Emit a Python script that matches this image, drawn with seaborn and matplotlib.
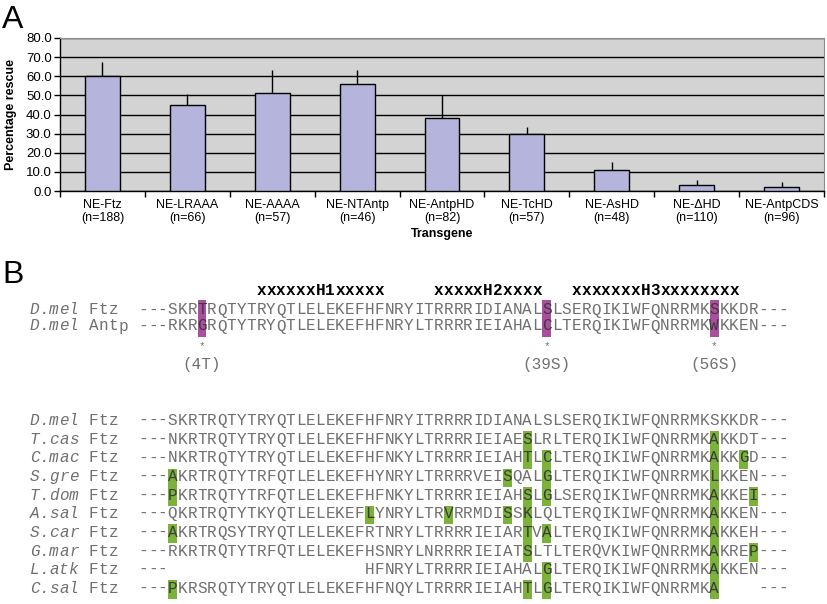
import numpy as np
import pandas as pd
import matplotlib
matplotlib.use("Agg")
import matplotlib.pyplot as plt
import seaborn as sns
from matplotlib.patches import Rectangle

# ---- panel A data ----
transgenes = ["NE-Ftz", "NE-LRAAA", "NE-AAAA", "NE-NTAntp", "NE-AntpHD",
              "NE-TcHD", "NE-AsHD", "NE-ΔHD", "NE-AntpCDS"]
n_embryos = [188, 66, 57, 46, 82, 57, 48, 110, 96]
rescue = [60.2, 45.2, 51.5, 55.8, 38.3, 30.0, 11.1, 3.0, 2.3]
rescue_err = [7.0, 5.3, 12.0, 7.6, 11.9, 3.7, 4.2, 2.9, 2.4]
y_ticks = [0, 10, 20, 30, 40, 50, 60, 70, 80]

# ---- panel B data ----
pair_species = ["D.mel", "D.mel"]
pair_genes = ["Ftz", "Antp"]
pair_seqs = [
    "---SKRTRQTYTRYQTLELEKEFHFNRYITRRRRIDIANALSLSERQIKIWFQNRRMKSKKDR---",
    "---RKRGRQTYTRYQTLELEKEFHFNRYLTRRRRIEIAHALCLTERQIKIWFQNRRMKWKKEN---",
]
helix_labels = ["xxxxxxH1xxxxx", "xxxxxH2xxxx", "xxxxxxxH3xxxxxxxx"]
helix_starts = [10, 28, 42]          # homeodomain position of first x
mutated_pos = [4, 39, 56]
mutated_labels = ["(4T)", "(39S)", "(56S)"]

ortho_species = ["D.mel", "T.cas", "C.mac", "S.gre", "T.dom",
                 "A.sal", "S.car", "G.mar", "L.atk", "C.sal"]
ortho_seqs = [
    "---SKRTRQTYTRYQTLELEKEFHFNRYITRRRRIDIANALSLSERQIKIWFQNRRMKSKKDR---",
    "---NKRTRQTYTRYQTLELEKEFHFNKYLTRRRRIEIAESLRLTERQIKIWFQNRRMKAKKDT---",
    "---NKRTRQTYTRYQTLELEKEFHFNKYLTRRRRIEIAHTLCLTERQIKIWFQNRRMKAKKGD---",
    "---AKRTRQTYTRFQTLELEKEFHYNRYLTRRRRVEISQALGLTERQIKIWFQNRRMKLKKEN---",
    "---PKRTRQTYTRFQTLELEKEFHFNKYLTRRRRIEIAHSLGLSERQIKIWFQNRRMKAKKEI---",
    "---QKRTRQTYTKYQTLELEKEFLYNRYLTRVRRMDISSKLQLTERQIKIWFQNRRMKAKKEN---",
    "---AKRTRQSYTRYQTLELEKEFRTNRYLTRRRRIEIARTVALTERQIKIWFQNRRMKAKKEH---",
    "---RKRTRQTYTRFQTLELEKEFHSNRYLNRRRRIEIATSLTLTERQVKIWFQNRRMKAKREP---",
    "---                    HFNRYLTRRRRIEIAHALGLTERQIKIWFQNRRMKAKKEN---",
    "---PKRSRQTYTRYQTLELEKEFHFNQYLTRRRRIEIAHTLGLTERQIKIWFQNRRMKA    ---",
]
ortho_highlights = [
    [], [37, 56], [37, 39, 56, 59], [1, 35, 39, 56], [1, 37, 39, 56, 60],
    [21, 29, 35, 37, 56], [1, 37, 39, 56], [37, 56, 60], [39, 56],
    [1, 37, 39, 56],
]

fig = plt.figure(figsize=(8.27, 6.04), dpi=100)
sans = ["Liberation Sans", "DejaVu Sans"]

# ---------------- panel A ----------------
ax = fig.add_axes([60 / 827, 1 - 191 / 604, 764 / 827, 153 / 604])
df = pd.DataFrame({
    "label": [f"{t}\n(n={n})" for t, n in zip(transgenes, n_embryos)],
    "rescue": rescue,
})
sns.barplot(data=df, x="label", y="rescue", color="#B4B4DC", saturation=1,
            edgecolor="black", linewidth=1.0, width=0.41, ax=ax, zorder=3)
for patch, err in zip(ax.patches, rescue_err):
    xc = patch.get_x() + patch.get_width() / 2
    top = patch.get_height()
    ax.vlines(xc, top, top + err, color="black", lw=1.0, zorder=4)

ax.set_facecolor("#D3D3D3")
ax.set_xlim(-0.5, len(transgenes) - 0.5)
ax.set_ylim(0, 80)
ax.set_yticks(y_ticks)
ax.set_yticklabels([f"{v:.1f}" for v in y_ticks], family=sans, fontsize=9.5)
ax.yaxis.grid(True, color="black", lw=1.0)
ax.set_axisbelow(True)
ax.set_xticks(np.arange(-0.5, len(transgenes)), minor=True)
ax.tick_params(axis="x", which="major", length=0, pad=6)
ax.tick_params(axis="x", which="minor", length=4, width=1, direction="out")
ax.tick_params(axis="y", length=4, width=1, direction="out", pad=2)
for lab in ax.get_xticklabels():
    lab.set_family(sans)
    lab.set_fontsize(9)
    lab.set_linespacing(1.05)
ax.set_xlabel("Transgene", family=sans, fontsize=9, fontweight="bold", labelpad=3)
ax.set_ylabel("Percentage rescue", family=sans, fontsize=9, fontweight="bold", labelpad=6)
for side in ["top", "right"]:
    ax.spines[side].set_color("#8C8C8C")
for side in ["left", "bottom"]:
    ax.spines[side].set_color("black")
    ax.spines[side].set_linewidth(1.0)

fig.text(2 / 827, 1 - 5 / 604, "A", family=sans, fontsize=23, va="top", ha="left")
fig.text(2 / 827, 1 - 260 / 604, "B", family=sans, fontsize=23, va="top", ha="left")

# ---------------- panel B ----------------
axb = fig.add_axes([0, 0, 1, 1])
axb.set_xlim(0, 827)
axb.set_ylim(604, 0)
axb.axis("off")

X0, CW = 138.0, 9.85
mono = "Liberation Mono"
gray = "#707070"
dark = "#3C3C3C"
FS = 11.5


def put_chars(s, col0, yc, marked=(), **kw):
    color = kw.pop("color", gray)
    for i, ch in enumerate(s):
        if ch == " ":
            continue
        c = dark if (col0 + i) in marked else color
        axb.text(X0 + (col0 + i + 0.5) * CW, yc + 5, ch, ha="center", va="baseline",
                 family=mono, fontsize=FS, zorder=3, color=c, **kw)


def put_label(sp, gene, yc):
    put_chars(sp, -11, yc, style="italic")
    put_chars(gene, -5, yc)


# helix header
for lab, start in zip(helix_labels, helix_starts):
    put_chars(lab, start + 2, 290, color="black", fontweight="bold")

pair_rows = [309.5, 325.5]
pair_marked = [p + 2 for p in mutated_pos]
for sp, g, seq, yc in zip(pair_species, pair_genes, pair_seqs, pair_rows):
    put_label(sp, g, yc)
    put_chars(seq, 0, yc, marked=pair_marked)
for pos, lab in zip(mutated_pos, mutated_labels):
    idx = pos + 2
    axb.add_patch(Rectangle((X0 + (idx + 0.05) * CW, 300), 0.9 * CW, 36.5,
                            facecolor="#AA4FA0", edgecolor="none", zorder=1))
    axb.text(X0 + (idx + 0.5) * CW, 349, "*", ha="center", va="baseline",
             family=mono, fontsize=8, color=gray)
    axb.text(X0 + (idx + 0.5) * CW, 364.5, lab, ha="center", va="center",
             family=mono, fontsize=FS, color=gray)

row0, pitch = 420.3, 18.6
for k, (sp, seq, hl) in enumerate(zip(ortho_species, ortho_seqs, ortho_highlights)):
    yc = row0 + k * pitch
    put_label(sp, "Ftz", yc)
    put_chars(seq, 0, yc, marked=[p + 2 for p in hl])
    for pos in hl:
        idx = pos + 2
        axb.add_patch(Rectangle((X0 + (idx + 0.05) * CW, yc - 7.6), 0.9 * CW, pitch,
                                facecolor="#7AB23A", edgecolor="none", zorder=1))

fig.savefig("out.png", dpi=100)
